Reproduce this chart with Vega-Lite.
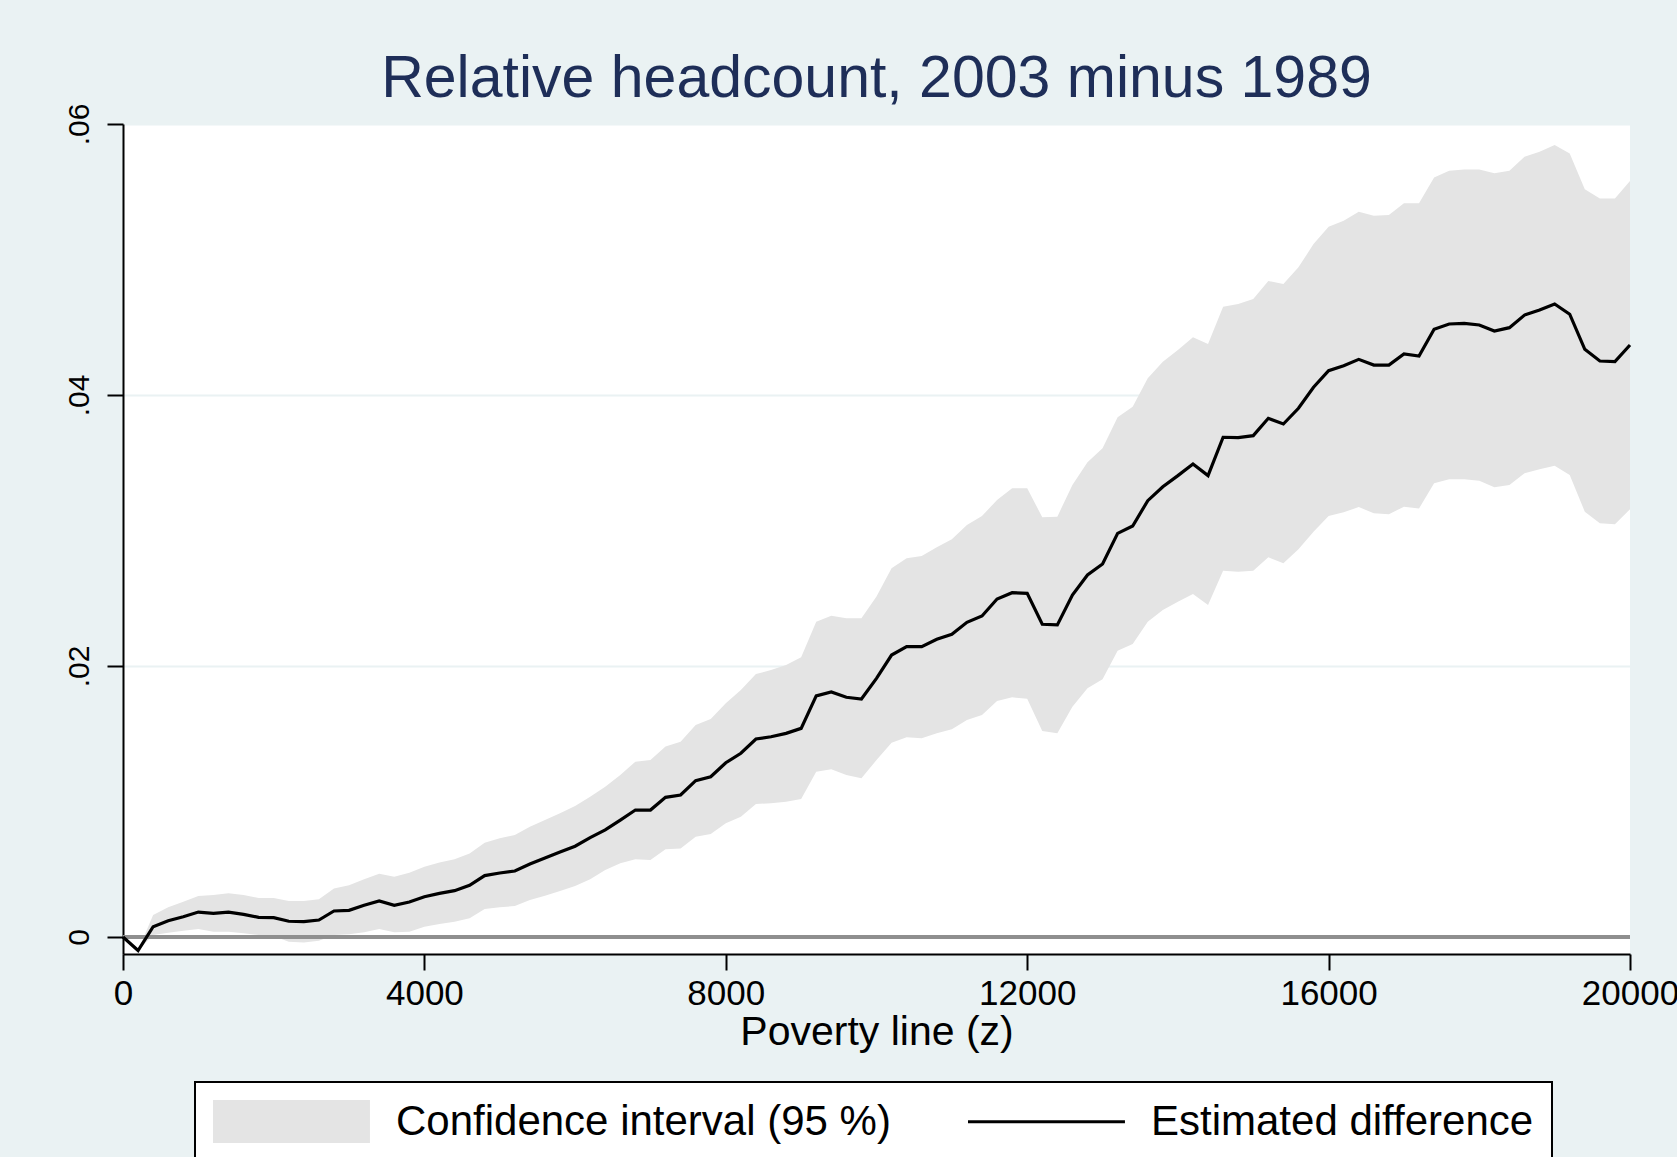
{
  "$schema": "https://vega.github.io/schema/vega-lite/v6.json",
  "width": 1507,
  "height": 830,
  "autosize": {"type": "none"},
  "padding": {"left": 123, "top": 124, "right": 47, "bottom": 203},
  "background": "#EAF2F3",
  "config": {"view": {"fill": "white", "stroke": null}, "font": "Liberation Sans"},
  "title": {"text": "Relative headcount, 2003 minus 1989", "fontSize": 59, "font": "Liberation Sans", "fontWeight": "normal", "color": "#1E2E58", "anchor": "middle", "frame": "group", "baseline": "alphabetic", "offset": -53},
  "data": {"values": [
    {"z": 0, "lo": 0, "est": 0, "hi": 0},
    {"z": 200, "lo": -0.001, "est": -0.001, "hi": -0.001},
    {"z": 400, "lo": 0.00015, "est": 0.00076, "hi": 0.00162},
    {"z": 600, "lo": 0.00032, "est": 0.0012, "hi": 0.00219},
    {"z": 800, "lo": 0.00047, "est": 0.0015, "hi": 0.0026},
    {"z": 1000, "lo": 0.00059, "est": 0.00184, "hi": 0.00303},
    {"z": 1200, "lo": 0.00039, "est": 0.00175, "hi": 0.0031},
    {"z": 1400, "lo": 0.00039, "est": 0.00184, "hi": 0.00322},
    {"z": 1600, "lo": 0.00027, "est": 0.00167, "hi": 0.0031},
    {"z": 1800, "lo": 0.00015, "est": 0.00145, "hi": 0.00288},
    {"z": 2000, "lo": 0.00007, "est": 0.00143, "hi": 0.00288},
    {"z": 2200, "lo": -0.00035, "est": 0.00116, "hi": 0.00266},
    {"z": 2400, "lo": -0.0004, "est": 0.00113, "hi": 0.00266},
    {"z": 2600, "lo": -0.00027, "est": 0.00125, "hi": 0.00278},
    {"z": 2800, "lo": 0.00015, "est": 0.00192, "hi": 0.00357},
    {"z": 3000, "lo": 0.0002, "est": 0.00197, "hi": 0.00381},
    {"z": 3200, "lo": 0.00035, "est": 0.00234, "hi": 0.00426},
    {"z": 3400, "lo": 0.00059, "est": 0.00266, "hi": 0.00467},
    {"z": 3600, "lo": 0.00035, "est": 0.00234, "hi": 0.00445},
    {"z": 3800, "lo": 0.00039, "est": 0.00258, "hi": 0.00475},
    {"z": 4000, "lo": 0.00076, "est": 0.00297, "hi": 0.00519},
    {"z": 4200, "lo": 0.00096, "est": 0.00322, "hi": 0.00549},
    {"z": 4400, "lo": 0.00113, "est": 0.00342, "hi": 0.00573},
    {"z": 4600, "lo": 0.00138, "est": 0.00381, "hi": 0.00617},
    {"z": 4800, "lo": 0.00207, "est": 0.00453, "hi": 0.00696},
    {"z": 5000, "lo": 0.00219, "est": 0.00472, "hi": 0.00728},
    {"z": 5200, "lo": 0.00229, "est": 0.00487, "hi": 0.00753},
    {"z": 5400, "lo": 0.00273, "est": 0.00539, "hi": 0.00814},
    {"z": 5600, "lo": 0.00305, "est": 0.00583, "hi": 0.00863},
    {"z": 5800, "lo": 0.0034, "est": 0.00627, "hi": 0.00913},
    {"z": 6000, "lo": 0.00376, "est": 0.0067, "hi": 0.00967},
    {"z": 6200, "lo": 0.00426, "est": 0.00733, "hi": 0.01035},
    {"z": 6400, "lo": 0.00494, "est": 0.0079, "hi": 0.01109},
    {"z": 6600, "lo": 0.00544, "est": 0.00863, "hi": 0.01196},
    {"z": 6800, "lo": 0.00573, "est": 0.00937, "hi": 0.01294},
    {"z": 7000, "lo": 0.00568, "est": 0.00937, "hi": 0.01306},
    {"z": 7200, "lo": 0.00647, "est": 0.01031, "hi": 0.01405},
    {"z": 7400, "lo": 0.00654, "est": 0.01048, "hi": 0.01441},
    {"z": 7600, "lo": 0.0074, "est": 0.01154, "hi": 0.01565},
    {"z": 7800, "lo": 0.0076, "est": 0.01183, "hi": 0.01609},
    {"z": 8000, "lo": 0.00839, "est": 0.01286, "hi": 0.01725},
    {"z": 8200, "lo": 0.00888, "est": 0.01356, "hi": 0.01823},
    {"z": 8400, "lo": 0.00982, "est": 0.01461, "hi": 0.01941},
    {"z": 8600, "lo": 0.00987, "est": 0.01478, "hi": 0.0197},
    {"z": 8800, "lo": 0.00999, "est": 0.01503, "hi": 0.02007},
    {"z": 9000, "lo": 0.01018, "est": 0.0154, "hi": 0.02064},
    {"z": 9200, "lo": 0.0122, "est": 0.01779, "hi": 0.02327},
    {"z": 9400, "lo": 0.01238, "est": 0.01808, "hi": 0.02371},
    {"z": 9600, "lo": 0.01196, "est": 0.01769, "hi": 0.02352},
    {"z": 9800, "lo": 0.01171, "est": 0.01756, "hi": 0.02352},
    {"z": 10000, "lo": 0.01306, "est": 0.01909, "hi": 0.02512},
    {"z": 10200, "lo": 0.01434, "est": 0.02081, "hi": 0.02721},
    {"z": 10400, "lo": 0.01474, "est": 0.02143, "hi": 0.02795},
    {"z": 10600, "lo": 0.01466, "est": 0.02143, "hi": 0.02812},
    {"z": 10800, "lo": 0.01503, "est": 0.02197, "hi": 0.02876},
    {"z": 11000, "lo": 0.01533, "est": 0.02234, "hi": 0.02935},
    {"z": 11200, "lo": 0.01601, "est": 0.02322, "hi": 0.0304},
    {"z": 11400, "lo": 0.01638, "est": 0.02369, "hi": 0.03107},
    {"z": 11600, "lo": 0.01742, "est": 0.02494, "hi": 0.03225},
    {"z": 11800, "lo": 0.01769, "est": 0.02541, "hi": 0.03311},
    {"z": 12000, "lo": 0.01758, "est": 0.02536, "hi": 0.03311},
    {"z": 12200, "lo": 0.0152, "est": 0.02308, "hi": 0.03098},
    {"z": 12400, "lo": 0.01503, "est": 0.02303, "hi": 0.03102},
    {"z": 12600, "lo": 0.017, "est": 0.02524, "hi": 0.03336},
    {"z": 12800, "lo": 0.01835, "est": 0.02672, "hi": 0.03503},
    {"z": 13000, "lo": 0.01902, "est": 0.02753, "hi": 0.03607},
    {"z": 13200, "lo": 0.02113, "est": 0.02979, "hi": 0.03835},
    {"z": 13400, "lo": 0.02162, "est": 0.03033, "hi": 0.03914},
    {"z": 13600, "lo": 0.02327, "est": 0.0322, "hi": 0.04123},
    {"z": 13800, "lo": 0.02413, "est": 0.03323, "hi": 0.04246},
    {"z": 14000, "lo": 0.02475, "est": 0.03405, "hi": 0.04332},
    {"z": 14200, "lo": 0.02531, "est": 0.03491, "hi": 0.04426},
    {"z": 14400, "lo": 0.0245, "est": 0.03405, "hi": 0.04376},
    {"z": 14600, "lo": 0.02703, "est": 0.03688, "hi": 0.04652},
    {"z": 14800, "lo": 0.02696, "est": 0.03686, "hi": 0.04672},
    {"z": 15000, "lo": 0.02703, "est": 0.037, "hi": 0.04708},
    {"z": 15200, "lo": 0.02802, "est": 0.03828, "hi": 0.04841},
    {"z": 15400, "lo": 0.02758, "est": 0.03786, "hi": 0.0482},
    {"z": 15600, "lo": 0.02861, "est": 0.03902, "hi": 0.04942},
    {"z": 15800, "lo": 0.02991, "est": 0.04057, "hi": 0.05114},
    {"z": 16000, "lo": 0.03107, "est": 0.0418, "hi": 0.05242},
    {"z": 16200, "lo": 0.03134, "est": 0.04216, "hi": 0.05286},
    {"z": 16400, "lo": 0.03173, "est": 0.04263, "hi": 0.05353},
    {"z": 16600, "lo": 0.03128, "est": 0.04221, "hi": 0.05322},
    {"z": 16800, "lo": 0.03119, "est": 0.04221, "hi": 0.05328},
    {"z": 17000, "lo": 0.03176, "est": 0.04303, "hi": 0.05415},
    {"z": 17200, "lo": 0.03163, "est": 0.04288, "hi": 0.05415},
    {"z": 17400, "lo": 0.03348, "est": 0.04485, "hi": 0.05606},
    {"z": 17600, "lo": 0.03378, "est": 0.04524, "hi": 0.05655},
    {"z": 17800, "lo": 0.03378, "est": 0.04529, "hi": 0.05665},
    {"z": 18000, "lo": 0.03368, "est": 0.04517, "hi": 0.05665},
    {"z": 18200, "lo": 0.03319, "est": 0.04472, "hi": 0.05636},
    {"z": 18400, "lo": 0.03336, "est": 0.04497, "hi": 0.05655},
    {"z": 18600, "lo": 0.03422, "est": 0.0459, "hi": 0.05759},
    {"z": 18800, "lo": 0.03452, "est": 0.04627, "hi": 0.05796},
    {"z": 19000, "lo": 0.03478, "est": 0.04672, "hi": 0.05845},
    {"z": 19200, "lo": 0.0341, "est": 0.04596, "hi": 0.05783},
    {"z": 19400, "lo": 0.03139, "est": 0.04337, "hi": 0.05518},
    {"z": 19600, "lo": 0.03053, "est": 0.04251, "hi": 0.05451},
    {"z": 19800, "lo": 0.03046, "est": 0.04246, "hi": 0.05451},
    {"z": 20000, "lo": 0.03156, "est": 0.04369, "hi": 0.05579}
  ]},
  "layer": [
    {
      "mark": {"type": "area", "opacity": 1},
      "encoding": {
        "x": {"field": "z", "type": "quantitative",
          "scale": {"domain": [0, 20000], "nice": false, "zero": false},
          "axis": {"values": [0, 4000, 8000, 12000, 16000, 20000], "format": "d", "title": "Poverty line (z)",
            "labelFontSize": 35, "labelColor": "black", "labelFont": "Liberation Sans", "labelFlush": false, "labelPadding": 6,
            "titleFontSize": 41, "titleFontWeight": "normal", "titleColor": "black", "titleFont": "Liberation Sans", "titlePadding": 1,
            "tickSize": 16, "tickWidth": 2, "tickColor": "black", "domainColor": "black", "domainWidth": 2, "grid": false, "labelOverlap": false}},
        "y": {"field": "lo", "type": "quantitative",
          "scale": {"domain": [-0.001255, 0.06], "nice": false, "zero": false},
          "axis": {"values": [0, 0.02, 0.04, 0.06], "title": null,
            "labelExpr": "datum.value == 0 ? '0' : replace(format(datum.value, '.2f'), '0.', '.')",
            "labelAngle": 270, "labelAlign": "center", "labelBaseline": "alphabetic", "labelFontSize": 30, "labelColor": "black", "labelPadding": 19,
            "tickSize": 16, "tickWidth": 2, "tickColor": "black", "domainColor": "black", "domainWidth": 2,
            "grid": true, "gridColor": "#EAF2F3", "gridWidth": 2, "labelOverlap": false}},
        "y2": {"field": "hi"},
        "color": {"datum": "Confidence interval (95 %)", "type": "nominal",
          "scale": {"domain": ["Confidence interval (95 %)", "Estimated difference"], "range": ["#E4E4E4", "#000000"]},
          "legend": {"orient": "none", "legendX": 72, "legendY": 958, "direction": "horizontal", "columns": 2, "title": null,
            "strokeColor": "black", "fillColor": "white", "padding": 18,
            "symbolSize": 1849, "symbolStrokeWidth": 0, "symbolOpacity": 1,
            "labelFontSize": 42, "labelColor": "black", "labelFont": "Liberation Sans", "labelOffset": 140, "columnPadding": 77, "labelLimit": 2000,
            "encoding": {
              "symbols": {
                "shape": {"condition": {"test": "datum.value === 'Estimated difference'", "value": "M-1,-0.075H6.3V0.075H-1Z"}, "value": "M-1,-1H6.3V1H-1Z"},
                "fill": {"condition": {"test": "datum.value === 'Estimated difference'", "value": "#000000"}, "value": "#E4E4E4"},
                "strokeWidth": {"value": 0},
                "opacity": {"value": 1}
              },
              "legend": {"strokeWidth": {"value": 2}}
            }}}
      }
    },
    {
      "mark": {"type": "rule", "color": "#8F8F8F", "strokeWidth": 3.5},
      "encoding": {"y": {"datum": 0}}
    },
    {
      "mark": {"type": "line", "strokeWidth": 3.2},
      "encoding": {
        "x": {"field": "z", "type": "quantitative"},
        "y": {"field": "est", "type": "quantitative", "title": null},
        "color": {"datum": "Estimated difference", "type": "nominal"}
      }
    }
  ]
}
